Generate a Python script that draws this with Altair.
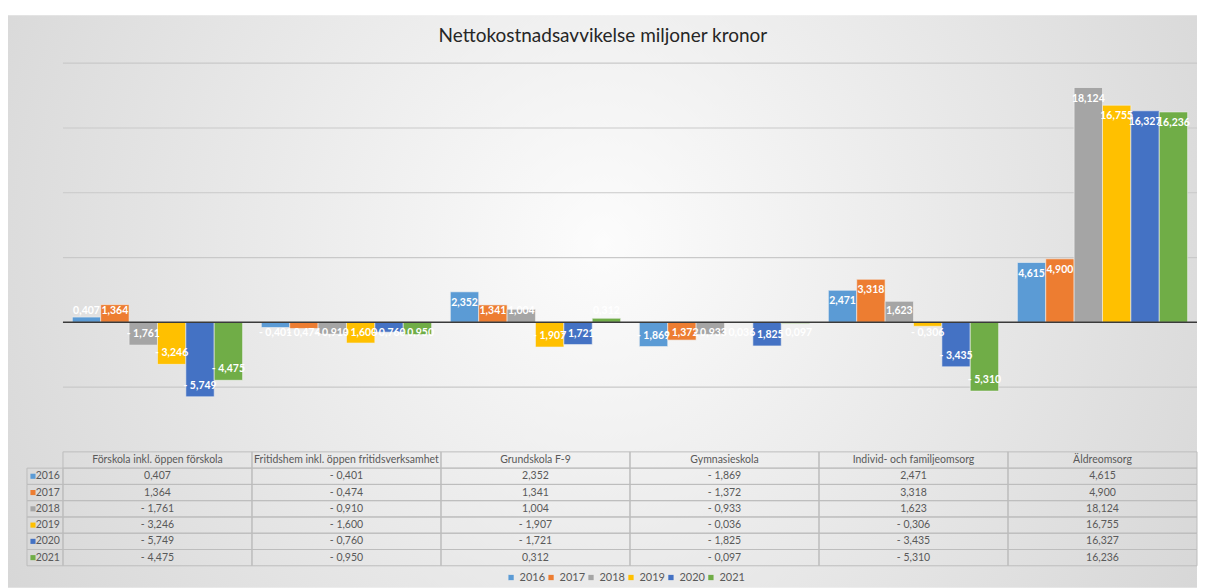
import altair as alt
import pandas as pd

categories = [
    "Förskola inkl. öppen förskola",
    "Fritidshem inkl. öppen fritidsverksamhet",
    "Grundskola F-9",
    "Gymnasieskola",
    "Individ- och familjeomsorg",
    "Äldreomsorg",
]
years = ["2016", "2017", "2018", "2019", "2020", "2021"]
v2016 = [0.407, -0.401, 2.352, -1.869, 2.471, 4.615]
v2017 = [1.364, -0.474, 1.341, -1.372, 3.318, 4.900]
v2018 = [-1.761, -0.910, 1.004, -0.933, 1.623, 18.124]
v2019 = [-3.246, -1.600, -1.907, -0.036, -0.306, 16.755]
v2020 = [-5.749, -0.760, -1.721, -1.825, -3.435, 16.327]
v2021 = [-4.475, -0.950, 0.312, -0.097, -5.310, 16.236]
series = [v2016, v2017, v2018, v2019, v2020, v2021]
colors = ["#5B9BD5", "#ED7D31", "#A5A5A5", "#FFC000", "#4472C4", "#70AD47"]
gridvals = [-5, 5, 10, 15, 20]

W = 1135
H = 389
FONT = "Lato"

rows = []
for yr, vals in zip(years, series):
    for c, v in zip(categories, vals):
        rows.append({"cat": c, "year": yr, "value": v})
df = pd.DataFrame(rows)

yscale = alt.Scale(domain=[-10, 20], nice=False, zero=False)
xenc = alt.X("cat:N", sort=categories, axis=None,
             scale=alt.Scale(paddingInner=0, paddingOuter=0))
xoff = alt.XOffset("year:N", sort=years,
                   scale=alt.Scale(paddingInner=0, paddingOuter=0.33))
legend_def = alt.Legend(
    title=None, orient="none", direction="horizontal",
    legendX=443, legendY=509, symbolType="square", symbolSize=28,
    labelFontSize=11, labelColor="#595959", labelFont=FONT,
    columnPadding=0, labelOffset=3, symbolStrokeWidth=0,
)
cenc = alt.Color("year:N", sort=years,
                 scale=alt.Scale(domain=years, range=colors), legend=legend_def)

bg = alt.Chart(pd.DataFrame({"a": [0]})).mark_rect(
    fill=alt.RadialGradient(
        gradient="radial", x1=0.5, y1=0.45, r1=0, x2=0.5, y2=0.45, r2=0.75,
        stops=[alt.GradientStop(color="#fcfcfc", offset=0),
               alt.GradientStop(color="#cccccc", offset=1)],
    )
).encode(x=alt.value(-55), x2=alt.value(W), y=alt.value(-48), y2=alt.value(H + 136))

grid = alt.Chart(pd.DataFrame({"g": gridvals})).mark_rule(
    color="#c9c9c9", strokeWidth=1.2
).encode(y=alt.Y("g:Q", scale=yscale, axis=None))

bars = alt.Chart(df).mark_bar(stroke="#f2f2f2", strokeWidth=0.6).encode(
    x=xenc, xOffset=xoff,
    y=alt.Y("value:Q", scale=yscale, axis=None),
    color=cenc,
)

zero = alt.Chart(pd.DataFrame({"z": [0]})).mark_rule(
    color="#3a3a3a", strokeWidth=1.6
).encode(y=alt.Y("z:Q", scale=yscale, axis=None))

labels = alt.Chart(df).transform_calculate(
    lpos="datum.value >= 0 ? max(datum.value - 0.85, 0.85) : min(datum.value + 0.85, -0.85)",
    label="(datum.value < 0 ? '- ' : '') + replace(format(abs(datum.value), '.3f'), '.', ',')",
).mark_text(color="white", fontWeight="bold", fontSize=10.5, font=FONT, baseline="middle").encode(
    x=xenc, xOffset=xoff,
    y=alt.Y("lpos:Q", scale=yscale, axis=None),
    text="label:N",
)

top = alt.layer(bg, grid, bars, zero, labels).properties(width=W, height=H)

# data table
row_order = ["header"] + years
trows = []
for c in categories:
    trows.append({"cat": c, "row": "header", "txt": c, "year": None})
for yr, vals in zip(years, series):
    for c, v in zip(categories, vals):
        trows.append({"cat": c, "row": yr, "value": v, "year": yr})
tdf = pd.DataFrame(trows)
ydf = pd.DataFrame({"row": years, "year": years})

tx = alt.X("cat:N", sort=categories, axis=None,
           scale=alt.Scale(paddingInner=0, paddingOuter=0))
ty = alt.Y("row:N", sort=row_order, axis=None,
           scale=alt.Scale(domain=row_order, paddingInner=0, paddingOuter=0))

cells = alt.Chart(tdf).mark_rect(fill="transparent", stroke="#bdbdbd", strokeWidth=1).encode(
    x=tx, y=ty)
celltext = alt.Chart(tdf).transform_calculate(
    shown="datum.row == 'header' ? datum.txt : (datum.value < 0 ? '- ' : '') + replace(format(abs(datum.value), '.3f'), '.', ',')"
).mark_text(color="#595959", fontSize=10.5, font=FONT, baseline="middle").encode(
    x=tx, y=ty, text="shown:N")
leftcells = alt.Chart(ydf).mark_rect(fill="transparent", stroke="#bdbdbd", strokeWidth=1).encode(
    x=alt.value(-36), x2=alt.value(0), y=ty)
swatch = alt.Chart(ydf).mark_square(size=26, opacity=1).encode(
    x=alt.value(-30), y=ty, color=cenc)
yeartext = alt.Chart(ydf).mark_text(color="#595959", fontSize=10.5, font=FONT,
                                    align="right", baseline="middle").encode(
    x=alt.value(-3), y=ty, text="year:N")

table = alt.layer(cells, celltext, leftcells, swatch, yeartext).properties(width=W, height=114)

chart = alt.vconcat(top, table, spacing=0, bounds="flush").properties(
    title=alt.TitleParams(
        "Nettokostnadsavvikelse miljoner kronor", fontSize=19, font=FONT,
        fontWeight="normal", color="#262626", offset=-31, anchor="middle",
    ),
    padding={"left": 0, "top": 7, "right": 0, "bottom": 0},
    background="white",
).configure_view(strokeWidth=0)

chart.save("out.html", embed_options={"renderer": "svg", "actions": False})
